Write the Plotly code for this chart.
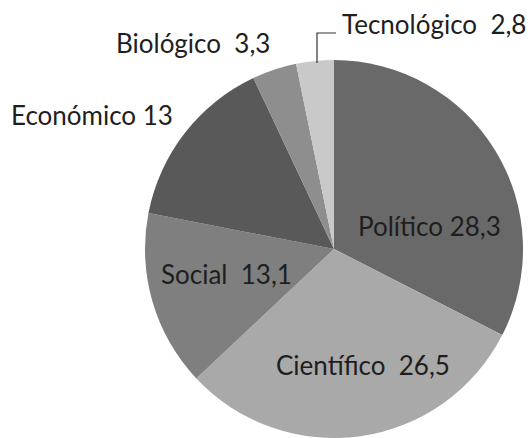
import plotly.graph_objects as go

categories = ["Político", "Científico", "Social", "Económico", "Biológico", "Tecnológico"]
values = [28.3, 26.5, 13.1, 13, 3.3, 2.8]
separators = [" ", "  ", "  ", " ", "  ", "  "]
colors = ["#696969", "#a9a9a9", "#7f7f7f", "#595959", "#8e8e8e", "#c9c9c9"]

W, H = 530, 438
# pixel centres of the label texts
label_px = [(429, 226), (363, 365), (226, 274), (92, 115), (193, 43), (434, 24)]


def fmt(v):
    return ("%g" % v).replace(".", ",")


def px2paper(x, y):
    return x / W, 1 - y / H


fig = go.Figure(
    go.Pie(
        labels=categories,
        values=values,
        sort=False,
        direction="clockwise",
        rotation=0,
        marker=dict(colors=colors, line=dict(width=0)),
        textinfo="none",
        hoverinfo="label+value",
        domain=dict(x=[145 / W, 523 / W], y=[0, 378 / H]),
        showlegend=False,
    )
)

annotations = []
for cat, sep, v, (x, y) in zip(categories, separators, values, label_px):
    xp, yp = px2paper(x, y)
    annotations.append(
        dict(
            text=f"{cat}{sep}{fmt(v)}",
            x=xp, y=yp, xref="paper", yref="paper",
            xanchor="center", yanchor="middle",
            showarrow=False,
            font=dict(family="Lato", size=26, color="#1e1e1e"),
        )
    )

# leader line for Tecnológico
p0 = px2paper(317, 63)
p1 = px2paper(317, 33)
p2 = px2paper(336, 33)
fig.add_shape(
    type="path",
    path=f"M {p0[0]} {p0[1]} L {p1[0]} {p1[1]} L {p2[0]} {p2[1]}",
    xref="paper", yref="paper",
    line=dict(color="#333333", width=1.2),
)

fig.update_layout(
    width=W, height=H,
    margin=dict(l=0, r=0, t=0, b=0),
    paper_bgcolor="white",
    plot_bgcolor="white",
    annotations=annotations,
)

fig.write_html(
    "out.html",
    config={"displayModeBar": False},
    post_script="document.body.style.margin='0';document.body.style.overflow='hidden';",
)
